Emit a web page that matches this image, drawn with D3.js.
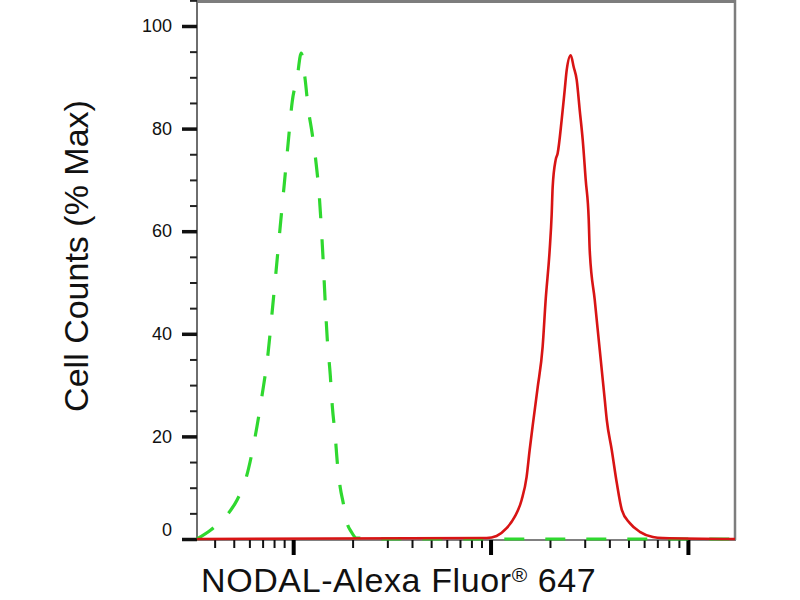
<!DOCTYPE html>
<html><head><meta charset="utf-8">
<script src="https://cdn.jsdelivr.net/npm/d3@7"></script>
<style>body{margin:0;background:#fff}</style>
</head><body>
<svg id="c" width="800" height="600"></svg>
<script>
// ---- data (fluorescence intensity, % of max) ----
const xDomain = [325.6, 173200];
const yDomain = [0, 100];

const greenX = [325.6, 383.6, 462.4, 519.6, 577.3, 641.3, 696.2, 746.5, 782.2, 819.8, 859.1, 900.3, 943.2, 988.4, 1047.9, 1098, 1150.6, 1191.6, 1248.6, 1308.5, 1355.2, 1387.2, 1420.2, 1453.7, 1488.1, 1541.2, 1577.6, 1633.8, 1672.5, 1732.1, 1793.7, 1857.7, 1969.7, 2088.4, 3451, 10000, 50000, 173200];
const greenY = [0, 1.8, 4.7, 7.6, 11.9, 19.9, 28.1, 36.3, 44.2, 52.4, 60.8, 69.0, 77.2, 85.2, 90, 94.7, 89.5, 84, 79, 73, 67, 61, 54, 46, 39, 32, 26, 20, 15, 10, 7, 3.7, 1.4, 0.2, 0, 0, 0, 0];

const redX = [325.6, 9544, 10728, 12059, 13243, 14371, 15232, 15777, 16338, 17320, 18365, 19020, 19930, 20400, 20640, 21375, 21880, 22930, 23750, 24310, 25480, 26380, 27320, 28300, 29310, 30350, 31440, 31800, 33720, 35760, 37910, 38810, 41140, 43620, 46240, 50760, 57060, 66440, 74660, 173200];
const redY = [0, 0.2, 0.6, 2.1, 4.3, 7.6, 12.1, 17.3, 22.0, 29.5, 37.5, 46.6, 56.3, 63.2, 68.6, 73.9, 75.2, 81.7, 87.5, 91.4, 94.3, 92.0, 89.5, 83.6, 77.8, 70.0, 62.2, 56.3, 46.6, 36.8, 27.1, 23.2, 17.3, 10.9, 5.7, 3.1, 1.4, 0.4, 0.2, 0];

const yMajorTicks = [0, 20, 40, 60, 80, 100];
const yMinorTicks = [5, 10, 15, 25, 30, 35, 45, 50, 55, 65, 70, 75, 85, 90, 95, 105];
const xMajorTicks = [1000, 10000, 100000];
const xMinorTicks = [400, 500, 600, 700, 800, 900, 2000, 3000, 4000, 5000, 6000, 7000, 8000, 9000, 20000, 30000, 40000, 50000, 60000, 70000, 80000, 90000];

const yTitle = "Cell Counts (% Max)";
const xTitleMain = "NODAL-Alexa Fluor";
const xTitleMark = "\u00AE";
const xTitleEnd = " 647";

// ---- drawing ----
const svg = d3.select("#c");
const L = 197, R = 735, B = 539;
const x = d3.scaleLog().domain(xDomain).range([L, R]);
const y = d3.scaleLinear().domain(yDomain).range([B, 26]);
const font = "'Liberation Sans', Arial, Helvetica, sans-serif";

// frame
svg.append("line").attr("x1", L).attr("x2", R + 1).attr("y1", 1.5).attr("y2", 1.5)
  .attr("stroke", "#7d7d7d").attr("stroke-width", 3);
svg.append("line").attr("x1", R).attr("x2", R).attr("y1", 0).attr("y2", B + 1)
  .attr("stroke", "#7d7d7d").attr("stroke-width", 2.5);
svg.append("line").attr("x1", L).attr("x2", L).attr("y1", 0).attr("y2", B + 1)
  .attr("stroke", "#6e6e6e").attr("stroke-width", 2);
svg.append("line").attr("x1", L).attr("x2", R + 1).attr("y1", B + 1).attr("y2", B + 1)
  .attr("stroke", "#808080").attr("stroke-width", 2);

// y axis minor
const gyMin = svg.append("g").attr("transform", `translate(${L},0)`)
  .call(d3.axisLeft(y).tickValues(yMinorTicks).tickSize(7).tickFormat(""));
gyMin.select(".domain").remove();
gyMin.selectAll("line").attr("stroke", "#222").attr("stroke-width", 2);

// y axis major
const gy = svg.append("g").attr("transform", `translate(${L},0)`)
  .call(d3.axisLeft(y).tickValues(yMajorTicks).tickSize(15).tickPadding(10).tickFormat(d3.format("d")));
gy.select(".domain").remove();
gy.selectAll("line").attr("stroke", "#111").attr("stroke-width", 3.5);
gy.selectAll("text").style("font-family", font).style("font-size", "18px").attr("fill", "#111");
gy.selectAll(".tick").filter(d => d === 0).select("text").attr("y", -9);

// x axis minor
const gxMin = svg.append("g").attr("transform", `translate(0,${B + 1})`)
  .call(d3.axisBottom(x).tickValues(xMinorTicks).tickSize(8).tickFormat(""));
gxMin.select(".domain").remove();
gxMin.selectAll("line").attr("stroke", "#111").attr("stroke-width", 2);

// x axis major
const gx = svg.append("g").attr("transform", `translate(0,${B + 1})`)
  .call(d3.axisBottom(x).tickValues(xMajorTicks).tickSize(15).tickFormat(""));
gx.select(".domain").remove();
gx.selectAll("line").attr("stroke", "#000").attr("stroke-width", 4);

// curves
const greenData = greenX.map((v, i) => [v, greenY[i]]);
const redData = redX.map((v, i) => [v, redY[i]]);
const line = d3.line().x(d => x(d[0])).y(d => y(d[1])).curve(d3.curveMonotoneX);

svg.append("path").datum(greenData).attr("d", line)
  .attr("fill", "none").attr("stroke", "#2fd82f").attr("stroke-width", 3.2)
  .attr("stroke-dasharray", "20,21").attr("stroke-linecap", "butt");

svg.append("path").datum(redData).attr("d", line)
  .attr("fill", "none").attr("stroke", "#d81414").attr("stroke-width", 2.6)
  .attr("stroke-linejoin", "round");

// titles
svg.append("text").attr("transform", "translate(88,256) rotate(-90)")
  .attr("text-anchor", "middle").style("font-family", font).style("font-size", "34px")
  .attr("fill", "#111").text(yTitle);

const xt = svg.append("text").attr("x", 201).attr("y", 592)
  .style("font-family", font).style("font-size", "34px").style("letter-spacing", "0.6px")
  .attr("fill", "#111");
xt.append("tspan").text(xTitleMain);
xt.append("tspan").attr("dy", -10).style("font-size", "21px").text(xTitleMark);
xt.append("tspan").attr("dy", 10).text(xTitleEnd);
</script>
</body></html>
